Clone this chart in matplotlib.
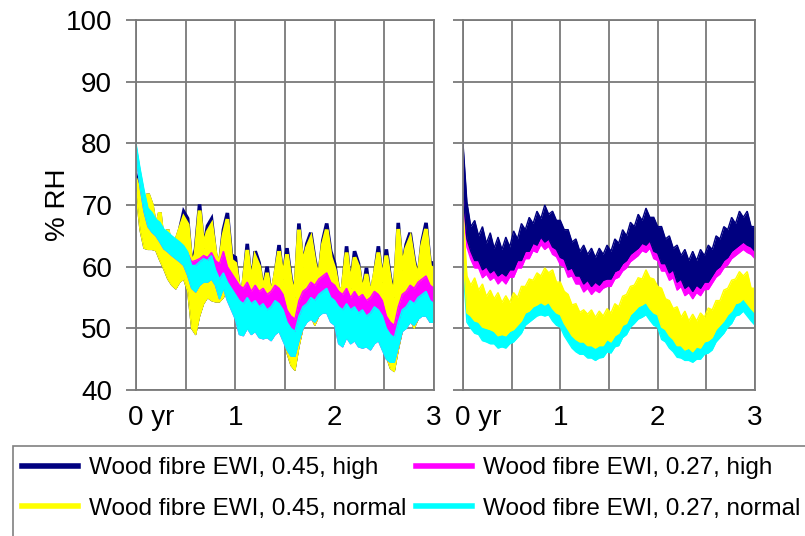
import numpy as np
import matplotlib
matplotlib.use("Agg")
import matplotlib.pyplot as plt
from matplotlib.lines import Line2D
from matplotlib.patches import Rectangle
from matplotlib.transforms import ScaledTranslation

plt.rcParams['font.family'] = ['Liberation Sans', 'DejaVu Sans']

# ---------------- data (samples every 0.04 yr) -------------
t_years = np.round(np.arange(76) * 0.04, 2)
x_ticks = [0, 1, 2, 3]
x_ticklabels = ['0 yr', '1', '2', '3']
y_ticks = [40, 50, 60, 70, 80, 90, 100]
series_labels = ['Wood fibre EWI, 0.45, high', 'Wood fibre EWI, 0.27, high',
                 'Wood fibre EWI, 0.45, normal', 'Wood fibre EWI, 0.27, normal']
series_colors = ['#000080', '#ff00ff', '#ffff00', '#00ffff']

# Left panel: upper / lower envelopes of each series
L_nav_hi = ([74.8, 72, 66, 71.8, 70, 66, 68.8, 63, 66, 62, 64, 66, 68.9, 67.8, 60, 62.9, 70.1, 63, 66.6, 67.7, 62, 60, 66.0, 68.7, 61.9]
            + [61.5, 56, 57, 63.7, 57, 62.5, 60.6, 56, 60.0, 55, 58.5, 63.5, 58, 63.0, 58.2, 55, 67.0, 60, 63.7, 65.5, 61.2, 58, 64.2, 67.0, 62.5]
            + [60.5, 56, 56.5, 63.3, 56.5, 62.5, 60.5, 55.5, 59.8, 55, 58.5, 63.3, 57.5, 62.8, 58.2, 55, 67.1, 59.5, 63.6, 65.5, 61.1, 58, 64.1, 67.1, 60.6, 60.6])
L_yel_hi = ([74, 72, 66, 71.8, 70, 66, 68.8, 63, 66, 62, 64, 66, 67.9, 66.8, 60, 62, 69.1, 63, 65.6, 66.7, 62, 60, 65, 67.7, 61]
            + [60.5, 56, 57, 62.7, 57, 61.5, 60, 56, 59, 55, 58.5, 62.5, 58, 62, 57.5, 55, 66, 60, 63, 64.5, 60.5, 58, 63.5, 66, 61.5]
            + [59.5, 56, 56.5, 62.3, 56.5, 61.5, 59.9, 55.5, 58.8, 55, 58.5, 62.3, 57.5, 61.8, 57.5, 55, 66.1, 59.5, 62.9, 64.5, 60.4, 58, 63.4, 66.1, 60, 59.6])
L_yel_lo = ([72, 66, 63, 62.8, 62.8, 62.6, 61, 59.6, 58, 57, 56.4, 57.5, 58, 56, 50, 49, 52, 54, 55, 54.5, 54.3, 54.3, 55, 57, 57]
            + [53, 50, 51, 52, 50, 51, 50.5, 49.5, 50, 49, 50, 50.5, 49, 46, 44, 43.2, 47, 50, 51.5, 52, 50.5, 52, 53, 53.5, 51.5]
            + [52, 48.5, 50, 50.5, 48.5, 50, 49, 48, 49, 47.5, 49, 49.5, 48, 45.5, 43.5, 43, 46.5, 49.5, 51, 51.5, 50, 51.5, 52.5, 53, 51, 51])
L_mag_hi = ([79.5, 75.5, 72, 69, 68.3, 67.2, 66.7, 65.6, 65.1, 64.5, 64, 63.5, 63, 62.2, 60.8, 61, 61.3, 61.8, 61.5, 62.3, 61, 60.5, 62.5, 60, 59]
            + [58, 57, 56.5, 57.5, 56, 57, 56, 56.5, 55.5, 56, 57, 56.5, 55.5, 53, 52, 51.5, 54.5, 56, 56.5, 57.5, 57, 58, 58.5, 59, 57.5]
            + [57, 56, 55.5, 56.5, 55, 56, 55, 55.5, 54.5, 55, 56, 55.5, 54.5, 52, 51, 50.5, 53.5, 55.5, 56, 57, 56.5, 57.5, 58, 58.5, 57, 56.5])
L_cya_hi = ([80, 76, 72.5, 69.5, 68.8, 67.7, 67.2, 66.1, 65.6, 65, 64.5, 64, 63.4, 62.4, 60.2, 60.2, 60.8, 61.3, 61, 61.8, 59.5, 58, 59, 57.5, 56.5]
            + [55.5, 54.5, 54, 55, 54, 54.5, 53.5, 54, 53, 53.5, 54.5, 54, 53, 51, 50, 49.5, 52, 53.5, 54, 55, 54.5, 55.5, 56, 56.5, 55]
            + [54.5, 53.5, 53, 54, 53, 53.5, 52.5, 53, 52, 52.5, 53.5, 53, 52, 50, 49, 48.5, 51, 53, 53.5, 54.5, 54, 55, 55.5, 56, 54.5, 54])
L_cya_lo = ([78, 73, 69, 66.5, 65.6, 65, 64, 62.9, 62.4, 61.8, 61.3, 60.8, 60.2, 58.6, 56.5, 55.9, 57, 57.5, 57.5, 58, 57, 54.8, 56.5, 54.5, 53]
            + [51.5, 49, 48.8, 50, 49, 49.5, 48.5, 48.3, 48.5, 48, 49, 49.5, 48, 46.5, 45.5, 45.5, 48, 50, 51, 51.5, 51, 52, 52.5, 52.5, 51]
            + [50.5, 47.5, 47, 48.5, 47.5, 48, 47, 46.8, 47, 46.5, 47.5, 48, 46.5, 45, 44.5, 44.5, 47, 49.5, 50, 51, 50.5, 51.5, 52, 52, 51, 51])

# Right panel: upper / lower envelopes of each series
R_nav_hi = ([80, 70.5, 66.5, 67.5, 65, 66.5, 63.8, 65.5, 63, 64.8, 62.8, 64.8, 63.2, 65.8, 64.5, 67, 66, 68, 67, 69, 67.8, 70, 68.5, 69, 67.5]
            + [67.5, 66, 66, 64, 64.5, 62.5, 63.5, 62, 63, 61.5, 63, 62, 63.5, 62.5, 64.5, 63.8, 66, 65, 67.2, 66.5, 68.5, 67.5, 69.5, 68, 68]
            + [66.5, 66.5, 64.5, 65, 63, 63.5, 61.8, 62.8, 61, 62.5, 61, 62.8, 61.8, 63.5, 62.8, 65, 64.5, 66.5, 66, 68, 67, 69, 68, 69, 66.5, 66.5])
R_nav_lo = ([72, 64.5, 62.5, 61, 61, 59.5, 60, 59, 59.5, 58.5, 59, 58.5, 59.5, 59.5, 61, 61, 62.5, 62.5, 63.8, 63.5, 64.8, 64, 64.5, 63.2, 62.8]
            + [61.5, 61.2, 59.5, 59.8, 58.5, 58.5, 57.2, 57.8, 56.8, 57.5, 57, 57.8, 58, 58, 59.2, 59.5, 60.5, 61, 62, 62.5, 63, 63.8, 63.5, 64.2, 62.5]
            + [62.2, 60.5, 60.5, 59, 59.5, 57.5, 58, 56.5, 57, 56, 57, 56.5, 57.5, 57.5, 58.5, 59.5, 60, 61, 61.5, 62.5, 63, 63.5, 64, 63.5, 63.2, 62.5])
R_mag_hi = ([78, 69, 65, 66, 63.5, 65, 62.3, 64, 61.5, 63.3, 61.3, 63.3, 61.7, 64.3, 63, 65.5, 64.5, 66.5, 65.5, 67.5, 66.3, 68.5, 67, 67.5, 66]
            + [66, 64.5, 64.5, 62.5, 63, 61, 62, 60.5, 61.5, 60, 61.5, 60.5, 62, 61, 63, 62.3, 64.5, 63.5, 65.7, 65, 67, 66, 68, 66.5, 66.5]
            + [65, 65, 63, 63.5, 61.5, 62, 60.3, 61.3, 59.5, 61, 59.5, 61.3, 60.3, 62, 61.3, 63.5, 63, 65, 64.5, 66.5, 65.5, 67.5, 66.5, 67.5, 65, 65])
R_mag_lo = ([70.5, 63.2, 61.2, 59.8, 59.8, 58.2, 58.8, 57.8, 58.3, 57.2, 57.9, 57.2, 58.3, 58.3, 59.8, 59.8, 61.3, 61.3, 62.6, 62.3, 63.6, 62.8, 63.3, 62, 61.6]
            + [60.3, 60, 58.3, 58.5, 57.2, 57.2, 55.9, 56.5, 55.5, 56.2, 55.8, 56.5, 56.8, 56.8, 58, 58.3, 59.3, 59.8, 60.8, 61.3, 61.8, 62.6, 62.3, 63, 61.3]
            + [61, 59.3, 59.3, 57.8, 58.2, 56.2, 56.8, 55.3, 55.8, 54.8, 55.8, 55.3, 56.3, 56.3, 57.3, 58.3, 58.8, 59.8, 60.3, 61.3, 61.8, 62.3, 62.8, 62.3, 62, 61.3])
R_yel_hi = ([69, 58.5, 57, 58.2, 56.2, 57.2, 55.2, 56.2, 54.8, 55.8, 54.2, 55.3, 54.2, 55.8, 55, 56.8, 56.8, 58, 57.8, 59, 58.5, 59.8, 59, 59.5, 57.5]
            + [57.5, 56, 55.5, 53.8, 54, 52.6, 53, 52.3, 53, 51.8, 52.8, 52, 53.2, 52.5, 54, 53.5, 55.2, 55.5, 56.8, 57, 58.2, 58, 59.5, 58.2, 58]
            + [56.8, 56.5, 54.8, 54.5, 53.2, 53.5, 51.8, 52.8, 51.2, 52.3, 51.2, 52.5, 51.8, 53.3, 53, 54.5, 54.5, 56.2, 56.5, 57.8, 58, 59.2, 58.5, 59.2, 56.5, 56.5])
R_yel_lo = ([62, 52.5, 52, 51.2, 51, 50.2, 50, 49.8, 49.5, 48.8, 49, 48.8, 49.5, 49.8, 50.5, 51.2, 52.5, 52.8, 53.5, 53.8, 54.2, 53.8, 54.2, 53.2, 52.5]
            + [52.2, 50.8, 49.8, 48.8, 48.2, 47.8, 47.8, 47.2, 47.2, 46.8, 47.2, 47.2, 48.2, 47.8, 48.8, 49.2, 50.5, 50.8, 52.2, 52.8, 53.5, 53.8, 54.2, 53.2, 52.5]
            + [52.2, 50.2, 49.8, 48.8, 48.2, 47.2, 47.2, 46.5, 46.8, 46.2, 47, 46.8, 47.8, 48, 48.5, 49.8, 50.5, 51.2, 52.2, 52.8, 54, 54.2, 54.8, 54, 53.2, 52.5])
R_cya_hi = ([67, 57, 55.5, 56.7, 54.7, 55.7, 53.7, 54.7, 53.3, 54.3, 52.7, 53.8, 52.7, 54.3, 53.5, 55.3, 55.3, 56.5, 56.3, 57.5, 57, 58.3, 57.5, 58, 56]
            + [56, 54.5, 54, 52.3, 52.5, 51.1, 51.5, 50.8, 51.5, 50.3, 51.3, 50.5, 51.7, 51, 52.5, 52, 53.7, 54, 55.3, 55.5, 56.7, 56.5, 58, 56.7, 56.5]
            + [55.3, 55, 53.3, 53, 51.7, 52, 50.3, 51.3, 49.7, 50.8, 49.7, 51, 50.3, 51.8, 51.5, 53, 53, 54.7, 55, 56.3, 56.5, 57.7, 57, 57.7, 55, 55])
R_cya_lo = ([60, 51, 50, 49.2, 49, 48, 47.8, 47.5, 47.5, 46.8, 47, 46.8, 47.5, 47.8, 48.5, 49.2, 50.5, 51, 51.5, 52, 52.2, 52, 52.2, 51.2, 50.5]
            + [50.2, 48.8, 47.8, 46.8, 46.2, 45.8, 45.8, 45.2, 45.2, 44.8, 45.2, 45.3, 46.2, 46, 47, 47.2, 48.5, 49, 50.2, 50.8, 51.5, 51.8, 52.2, 51.3, 50.5]
            + [50.2, 48.2, 47.8, 46.8, 46.2, 45.3, 45.2, 44.8, 44.8, 44.5, 45, 45, 45.8, 46, 46.5, 47.8, 48.5, 49.2, 50.2, 50.8, 52, 52.2, 52.8, 52, 51.2, 50.5])

NAVY, MAG, YEL, CYA = series_colors
GRID = '#7a7a7a'

fig = plt.figure(figsize=(8.05, 5.36), dpi=100)
W, H = 805, 536
axL = fig.add_axes([136 / W, 1 - 390 / H, 298 / W, 370 / H])
axR = fig.add_axes([463 / W, 1 - 390 / H, 292 / W, 370 / H])


def band(ax, lo, hi, color, z, lw=1.0):
    ax.fill_between(t_years, lo, hi, color=color, lw=0, zorder=z)
    ax.plot(t_years, hi, color=color, lw=lw, zorder=z, solid_joinstyle='miter')
    ax.plot(t_years, lo, color=color, lw=1.0, zorder=z)


# left panel: navy under yellow (visible as dark caps on the peaks), then magenta, cyan on top
band(axL, L_yel_lo, L_nav_hi, NAVY, 3, lw=2.6)
band(axL, L_yel_lo, L_yel_hi, YEL, 4, lw=2.8)
band(axL, L_cya_lo, L_mag_hi, MAG, 5)
band(axL, L_cya_lo, L_cya_hi, CYA, 6)

# right panel: magenta under navy, cyan under yellow
band(axR, R_mag_lo, R_mag_hi, MAG, 3)
band(axR, R_nav_lo, R_nav_hi, NAVY, 4)
band(axR, R_cya_lo, R_cya_hi, CYA, 5)
band(axR, R_yel_lo, R_yel_hi, YEL, 6)

for ax in (axL, axR):
    ax.set_xlim(0, 3)
    ax.set_ylim(40, 100)
    ax.set_yticks(y_ticks)
    ax.set_xticks(x_ticks)
    ax.set_xticks([0.5, 1.5, 2.5], minor=True)
    ax.grid(True, which='both', color=GRID, lw=1.3, zorder=1)
    ax.set_axisbelow(True)
    for s in ax.spines.values():
        s.set_color(GRID)
        s.set_linewidth(1.3)
        s.set_zorder(10)
    ax.tick_params(axis='y', length=7.2, width=1.3, color=GRID, direction='out',
                   labelsize=20, pad=10)
    ax.tick_params(axis='x', which='both', length=0, labelsize=20, pad=11)
    ax.set_xticklabels(x_ticklabels)
    lab0 = ax.get_xticklabels()[0]
    lab0.set_ha('left')
    lab0.set_transform(lab0.get_transform() + ScaledTranslation(-7.7 / 100, 0, fig.dpi_scale_trans))
    ax.set_facecolor('white')

axR.tick_params(axis='y', labelleft=False)
axL.set_ylabel('% RH', fontsize=20)
axL.yaxis.set_label_coords(-0.218, 0.5)

# legend box and legend
fig.patches.append(Rectangle((13 / W, -0.05), (W - 13 + 10) / W, 1 - 446 / H + 0.05,
                             transform=fig.transFigure, facecolor='none',
                             edgecolor='#808080', lw=1.2))
handles = [Line2D([], [], color=c, lw=4) for c in series_colors]
order = [0, 2, 1, 3]
fig.legend([handles[i] for i in order], [series_labels[i] for i in order],
           ncol=2, loc='upper left', bbox_to_anchor=(22 / W, 1 - 457 / H),
           frameon=False, fontsize=17.5, handlelength=2.3, handletextpad=0.45,
           columnspacing=0.4, labelspacing=0.78, borderpad=0, borderaxespad=0)

fig.savefig('out.png', dpi=100)
